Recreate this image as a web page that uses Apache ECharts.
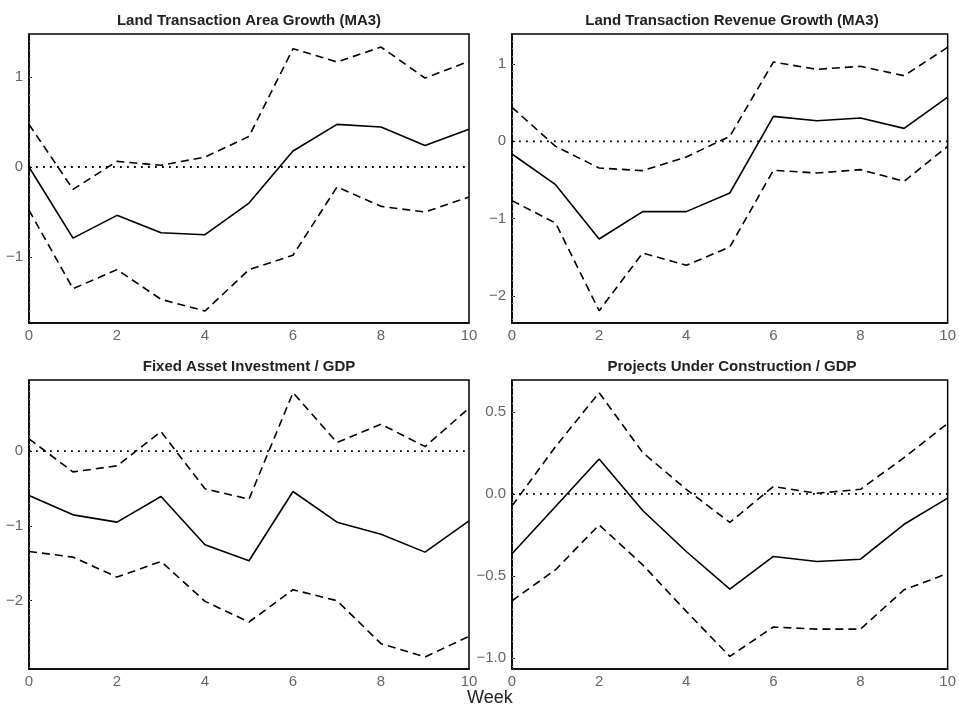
<!DOCTYPE html>
<html>
<head>
<meta charset="utf-8">
<script src="https://cdn.jsdelivr.net/npm/echarts@6/dist/echarts.min.js"></script>
<style>
  html, body { margin: 0; padding: 0; background: #fff; }
  #chart { width: 959px; height: 707px; }
</style>
</head>
<body>
<div id="chart"></div>
<script>
// Impulse responses over 10 weeks: point estimate with upper/lower bands
const weeks = [0, 1, 2, 3, 4, 5, 6, 7, 8, 9, 10];

const panelTitles = [
  'Land Transaction Area Growth (MA3)',
  'Land Transaction Revenue Growth (MA3)',
  'Fixed Asset Investment / GDP',
  'Projects Under Construction / GDP'
];

const areaMid   = [0, -0.79, -0.537, -0.73, -0.752, -0.40, 0.178, 0.474, 0.444, 0.24, 0.42];
const areaUpper = [0.474, -0.248, 0.063, 0.019, 0.111, 0.34, 1.315, 1.167, 1.333, 0.989, 1.174];
const areaLower = [-0.48, -1.352, -1.14, -1.47, -1.6, -1.14, -0.98, -0.222, -0.437, -0.5, -0.333];

const revenueMid   = [-0.164, -0.56, -1.263, -0.909, -0.909, -0.668, 0.323, 0.267, 0.302, 0.168, 0.573];
const revenueUpper = [0.44, -0.065, -0.345, -0.379, -0.203, 0.065, 1.026, 0.931, 0.97, 0.849, 1.216];
const revenueLower = [-0.767, -1.056, -2.19, -1.444, -1.603, -1.366, -0.375, -0.409, -0.366, -0.517, -0.065];

const faiMid   = [-0.594, -0.853, -0.951, -0.607, -1.254, -1.469, -0.54, -0.951, -1.112, -1.353, -0.933];
const faiUpper = [0.165, -0.277, -0.196, 0.263, -0.504, -0.643, 0.786, 0.116, 0.362, 0.0625, 0.576];
const faiLower = [-1.344, -1.42, -1.688, -1.478, -2.013, -2.29, -1.857, -2.004, -2.58, -2.759, -2.482];

const pucMid   = [-0.365, -0.077, 0.213, -0.101, -0.351, -0.58, -0.381, -0.412, -0.398, -0.185, -0.026];
const pucUpper = [-0.073, 0.288, 0.617, 0.252, 0.028, -0.174, 0.045, 0.004, 0.028, 0.221, 0.43];
const pucLower = [-0.651, -0.462, -0.189, -0.432, -0.716, -0.99, -0.811, -0.824, -0.824, -0.584, -0.485];

// horizontal reference at zero across the full horizon
const zeroRef = [[0, 0], [10, 0]];

const xTicks = [0, 2, 4, 6, 8, 10];
const yTicks = [[-1, 0, 1], [-2, -1, 0, 1], [-2, -1, 0], [-1, -0.5, 0, 0.5]];
const yLimits = [[-1.733, 1.478], [-2.349, 1.388], [-2.92, 0.955], [-1.067, 0.694]];
const yDecimals = [0, 0, 0, 1];
const minorSteps = [0.1, 0.1, 0.1, 0.05];

const panels = [
  [areaMid, areaUpper, areaLower],
  [revenueMid, revenueUpper, revenueLower],
  [faiMid, faiUpper, faiLower],
  [pucMid, pucUpper, pucLower]
];

const gridLefts = [29, 512, 29, 512];
const gridTops = [34, 34, 380, 380];
const gridW = 440, gridH = 289;

const toPairs = arr => weeks.map((w, j) => [w, arr[j]]);
const fmt = (v, d) => {
  const s = Math.abs(v).toFixed(d);
  return v < 0 ? '\u2212' + s : s;
};

const grids = [], xAxes = [], yAxes = [], series = [], titles = [];

panels.forEach((p, i) => {
  grids.push({
    left: gridLefts[i], top: gridTops[i], width: gridW, height: gridH,
    show: true, borderColor: '#000', borderWidth: 1.5, backgroundColor: 'transparent'
  });
  titles.push({
    text: panelTitles[i],
    left: gridLefts[i] + gridW / 2,
    top: gridTops[i] - 21,
    textAlign: 'center',
    padding: 0,
    textStyle: { fontFamily: 'Liberation Sans, Arial, sans-serif', fontSize: 15, fontWeight: 'bold', color: '#222' }
  });
  xAxes.push({
    type: 'value', gridIndex: i, min: 0, max: 10, interval: 2, position: 'bottom',
    axisLine: { show: true, onZero: false, lineStyle: { color: '#000', width: 1.5 } },
    axisTick: { show: false },
    splitLine: { show: false },
    axisLabel: {
      customValues: xTicks,
      color: '#666', fontSize: 15, margin: 5,
      fontFamily: 'Liberation Sans, Arial, sans-serif'
    }
  });
  const [lo, hi] = yLimits[i];
  yAxes.push({
    type: 'value', gridIndex: i, min: lo, max: hi, position: 'left',
    axisLine: { show: true, onZero: false, lineStyle: { color: '#000', width: 1.5 } },
    splitLine: { show: false },
    axisTick: { show: true, inside: true, length: 3, customValues: yTicks[i], lineStyle: { color: '#000', width: 1 } },
    axisLabel: {
      customValues: yTicks[i],
      color: '#666', fontSize: 15, margin: 6,
      fontFamily: 'Liberation Sans, Arial, sans-serif',
      formatter: v => fmt(v, yDecimals[i])
    }
  });
  // fine tick marks along the left edge
  const step = minorSteps[i];
  const minor = [];
  for (let k = Math.ceil(lo / step); k * step <= hi; k++) minor.push(+(k * step).toFixed(3));
  yAxes.push({
    type: 'value', gridIndex: i, min: lo, max: hi, position: 'left',
    axisLine: { show: false, onZero: false },
    splitLine: { show: false },
    axisLabel: { show: false },
    axisTick: { show: true, inside: true, length: 1.5, customValues: minor, lineStyle: { color: '#888', width: 1 } }
  });

  const yIdx = i * 2;
  const base = { type: 'line', xAxisIndex: i, yAxisIndex: yIdx, symbol: 'none', silent: true, animation: false };
  series.push(Object.assign({}, base, {
    data: zeroRef,
    lineStyle: { color: '#000', width: 1.8, type: [1.8, 5.2] },
    z: 1
  }));
  series.push(Object.assign({}, base, {
    data: toPairs(p[0]),
    lineStyle: { color: '#000', width: 1.6, type: 'solid' },
    z: 3
  }));
  series.push(Object.assign({}, base, {
    data: toPairs(p[1]),
    lineStyle: { color: '#000', width: 1.6, type: [8, 5] }
  }));
  series.push(Object.assign({}, base, {
    data: toPairs(p[2]),
    lineStyle: { color: '#000', width: 1.6, type: [8, 5] }
  }));
});

const chart = echarts.init(document.getElementById('chart'), null, { renderer: 'canvas' });
chart.setOption({
  backgroundColor: '#fff',
  animation: false,
  title: titles,
  grid: grids,
  xAxis: xAxes,
  yAxis: yAxes,
  series: series,
  graphic: [{
    type: 'text', left: 467, top: 689,
    style: { text: 'Week', fontSize: 18, fill: '#222', fontFamily: 'Liberation Sans, Arial, sans-serif' }
  }]
});
</script>
</body>
</html>
